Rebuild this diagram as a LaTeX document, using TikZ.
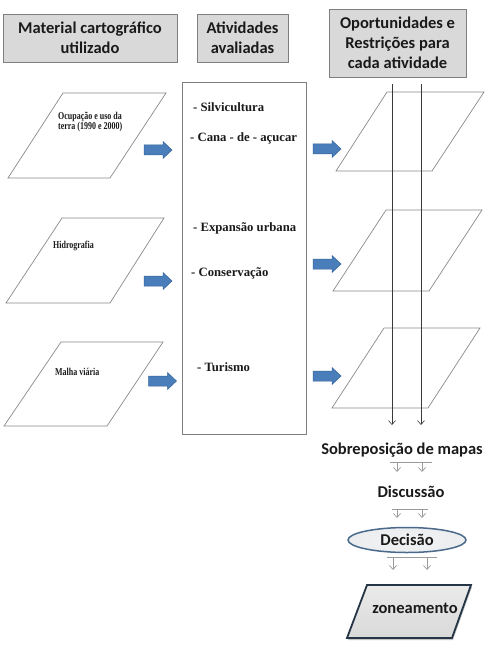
\documentclass[tikz,border=0pt]{standalone}
\usepackage{fontspec}
\setmainfont{Liberation Serif}
\newfontfamily\calib{Carlito}
\newfontfamily\narrowserif[FakeStretch=0.76]{Liberation Serif}
\usetikzlibrary{shapes.geometric,arrows.meta,shadows}
\definecolor{hdrfill}{HTML}{D9D9D9}
\definecolor{hdrline}{HTML}{7F7F7F}
\definecolor{paraline}{HTML}{8A8A8A}
\definecolor{arrowblue}{HTML}{4A7EBB}
\definecolor{arrowedge}{HTML}{35649A}
\definecolor{txt}{HTML}{1A1A1A}
\definecolor{vline}{HTML}{3A3A3A}
\definecolor{flowline}{HTML}{9A9A9A}
\definecolor{ellline}{HTML}{4A6A8C}
\definecolor{zonline}{HTML}{253545}
\tikzset{
  hdr/.style={draw=hdrline, fill=hdrfill, line width=0.9pt, font=\calib\bfseries\fontsize{16.5}{20}\selectfont, text=txt, align=center, inner sep=0pt},
  para/.style={draw=paraline, line width=0.7pt},
  blockarrow/.pic={
    \draw[fill=arrowblue, draw=arrowedge, line width=0.5pt, line join=miter]
      (-14,-5) -- (5,-5) -- (5,-8.5) -- (14,0) -- (5,8.5) -- (5,5) -- (-14,5) -- cycle;
    \coordinate (-tip) at (14,0);
  },
  activ/.style={anchor=west, font=\bfseries\fontsize{12.7}{14}\selectfont, text=txt, inner sep=0pt},
  mapl/.style={anchor=west, align=left, font=\narrowserif\bfseries\fontsize{10.5}{10}\selectfont, text=txt, inner sep=0pt},
  flowtxt/.style={font=\calib\bfseries\fontsize{16.5}{20}\selectfont, text=txt, inner sep=0pt},
  overlay line/.style={draw=vline, line width=0.6pt},
  downtip/.style={-{Straight Barb[length=4pt,width=7pt]}},
  flow/.style={draw=flowline, line width=0.7pt}
}
\begin{document}
\begin{tikzpicture}[x=1pt,y=-1pt]
\useasboundingbox (0,0) rectangle (491,652);
\fill[white] (0,0) rectangle (491,652);

% headers
\node[hdr, minimum width=174pt, minimum height=48pt] (h1) at (90,38) {Material cartográfico\\utilizado};
\node[hdr, minimum width=91pt, minimum height=48pt] (h2) at (242.5,38) {Atividades\\avaliadas};
\node[hdr, minimum width=137pt, minimum height=68pt] (h3) at (397.5,43) {Oportunidades e\\Restrições para\\cada atividade};

% left parallelograms (maps)
\draw[para] (63,93) coordinate (p1a) -- (166,93) -- (110,178) -- (8,178) -- cycle;
\node[mapl] (t1) at (58,122) {Ocupação e uso da\\terra (1990 e 2000)};
\draw[para] (62,218) coordinate (p2a) -- (164,218) -- (110,303) -- (6,303) -- cycle;
\node[mapl] (t2) at (53,246) {Hidrografia};
\draw[para] (61,342) coordinate (p3a) -- (163,342) -- (107,426) -- (4,426) -- cycle;
\node[mapl] (t3) at (55,372) {Malha viária};

% left arrows
\pic (la1) at (158,150) {blockarrow};
\pic (la2) at (158,281) {blockarrow};
\pic (la3) at (162.5,381) {blockarrow};

% middle box
\node[draw=hdrline, line width=0.9pt, minimum width=124pt, minimum height=352pt, inner sep=0pt] (mid) at (244,258) {};
\node[activ] (a1) at (193,107) {- Silvicultura};
\node[activ] (a2) at (190,138) {- Cana - de - açucar};
\node[activ] (a3) at (193,228) {- Expansão urbana};
\node[activ] (a4) at (191,273) {- Conservação};
\node[activ] (a5) at (197,367) {- Turismo};

% right arrows
\pic (ra1) at (327,149) {blockarrow};
\pic (ra2) at (327,264) {blockarrow};
\pic (ra3) at (327,376) {blockarrow};

% right parallelograms
\draw[para] (387,92) coordinate (r1a) -- (484,92) -- (432,171) -- (336,171) -- cycle;
\draw[para] (386,210) coordinate (r2a) -- (482,210) -- (429,291) -- (333,291) -- cycle;
\draw[para] (384,328) coordinate (r3a) -- (480,328) -- (428,408) -- (332,408) -- cycle;

% overlay vertical lines
\coordinate (v1s) at (392,84);
\coordinate (v1e) at (392,425);
\coordinate (v2s) at (421,84);
\coordinate (v2e) at (421,425);
\draw[overlay line, downtip] (v1s) -- (v1e);
\draw[overlay line, downtip] (v2s) -- (v2e);

% flow below
\node[flowtxt] (sob) at (402,450) {Sobreposição de mapas};
\coordinate (l1a) at (390,462); \coordinate (l1b) at (432,462);
\draw[flow] (l1a) -- (l1b);
\draw[flow, downtip] (397,462) -- (397,472);
\draw[flow, downtip] (422,462) -- (422,472);

\node[flowtxt] (dis) at (411,492) {Discussão};
\coordinate (l2a) at (392,509); \coordinate (l2b) at (428,509);
\draw[flow] (l2a) -- (l2b);
\draw[flow, downtip] (397,509) -- (397,518);
\draw[flow, downtip] (422,509) -- (422,518);

\node[ellipse, draw=ellline, line width=1.5pt, inner color=white!70!hdrfill, outer color=hdrfill!80!ellline!30, minimum width=118pt, minimum height=25pt, inner sep=0pt] (dec) at (407,540) {};
\node[flowtxt] at (dec.center) {Decisão};

\coordinate (l3a) at (387,557); \coordinate (l3b) at (437,557);
\draw[flow] (l3a) -- (l3b);
\draw[flow, downtip] (393,557) -- (393,570);
\draw[flow, downtip] (427,557) -- (427,570);

\draw[draw=zonline, line width=1.8pt, top color=hdrfill!55, bottom color=hdrfill, drop shadow={opacity=0.45, shadow xshift=1pt, shadow yshift=-2pt}]
  (367,585) coordinate (z1) -- (471,585) -- (452,638) -- (347,638) -- cycle;
\node[flowtxt] (zon) at (415,608) {zoneamento};
\end{tikzpicture}
\end{document}
